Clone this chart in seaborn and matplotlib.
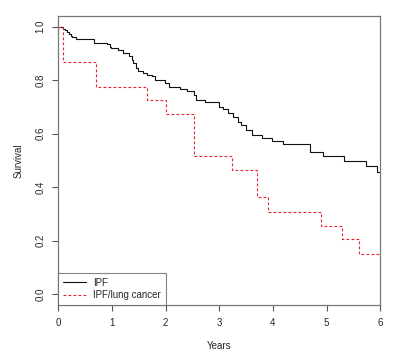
import matplotlib
matplotlib.use("Agg")
import matplotlib.pyplot as plt
import seaborn as sns
import pandas as pd

# IPF survival curve (time of step, survival level after step)
ipf_time = [0, 0.08, 0.125, 0.157, 0.20, 0.23, 0.26, 0.33, 0.66, 0.91, 0.96, 0.99,
            1.12, 1.21, 1.32, 1.37, 1.40, 1.45, 1.49, 1.58, 1.65, 1.74, 1.80, 1.99,
            2.07, 2.27, 2.39, 2.52, 2.57, 2.73, 3.00, 3.07, 3.17, 3.26, 3.34, 3.40,
            3.50, 3.60, 3.79, 3.98, 4.18, 4.69, 4.94, 5.33, 5.73, 5.94, 6.00]
ipf_surv = [1.0, 0.993, 0.986, 0.979, 0.973, 0.966, 0.961, 0.955, 0.940, 0.935, 0.926, 0.920,
            0.914, 0.901, 0.889, 0.876, 0.864, 0.845, 0.836, 0.827, 0.820, 0.814, 0.801, 0.789,
            0.776, 0.767, 0.758, 0.745, 0.725, 0.717, 0.701, 0.692, 0.677, 0.664, 0.645, 0.633,
            0.614, 0.596, 0.583, 0.573, 0.562, 0.531, 0.517, 0.497, 0.478, 0.457, 0.457]

# IPF/lung cancer survival curve
lc_time = [0, 0.09, 0.70, 1.65, 2.01, 2.52, 3.24, 3.71, 3.90, 4.89, 5.29, 5.60, 6.00]
lc_surv = [1.0, 0.867, 0.774, 0.727, 0.673, 0.517, 0.463, 0.362, 0.308, 0.256, 0.205, 0.152, 0.152]

groups = ["IPF", "IPF/lung cancer"]
x_ticks = [0, 1, 2, 3, 4, 5, 6]
y_ticks = [0.0, 0.2, 0.4, 0.6, 0.8, 1.0]

df = pd.concat([
    pd.DataFrame({"Years": ipf_time, "Survival": ipf_surv, "group": groups[0]}),
    pd.DataFrame({"Years": lc_time, "Survival": lc_surv, "group": groups[1]}),
])

sns.set_style("white")
plt.rcParams["font.family"] = ["Liberation Sans", "DejaVu Sans"]

fig = plt.figure(figsize=(4.01, 3.52), dpi=100)
ax = fig.add_axes([58.3 / 401, 1 - 305 / 352, (380.3 - 58.3) / 401, (305 - 16) / 352])

sns.lineplot(data=df[df.group == groups[0]], x="Years", y="Survival", ax=ax,
             drawstyle="steps-post", color="#111111", linewidth=0.8,
             estimator=None, sort=False, label=groups[0])
sns.lineplot(data=df[df.group == groups[1]], x="Years", y="Survival", ax=ax,
             drawstyle="steps-post", color="#e8202a", linewidth=0.8,
             estimator=None, sort=False, label=groups[1], dashes=False)
ax.lines[1].set_linestyle((0, (2.5, 2)))

ax.set_xlim(0, 6)
ax.set_ylim(-0.04, 1.04)
ax.set_xticks(x_ticks)
ax.set_xticklabels([str(t) for t in x_ticks])
ax.set_yticks(y_ticks)
ax.set_yticklabels([f"{t:.1f}" for t in y_ticks], rotation=90, va="center")

for s in ax.spines.values():
    s.set_visible(True)
    s.set_color("#777777")
    s.set_linewidth(0.9)

ax.tick_params(axis="both", direction="out", length=4, width=0.8, color="#555555",
               labelsize=7, pad=5, bottom=True, left=True)
ax.set_xlabel("Years", fontsize=7, labelpad=10)
ax.set_ylabel("Survival", fontsize=7, labelpad=9)

leg = ax.legend(loc="lower left", fontsize=7, frameon=True, fancybox=False,
                borderaxespad=0, handlelength=2.4, borderpad=0.5,
                labelspacing=0.25, handletextpad=0.7)
leg.get_frame().set_edgecolor("#666666")
leg.get_frame().set_linewidth(0.8)

fig.savefig("out.png", dpi=100)
